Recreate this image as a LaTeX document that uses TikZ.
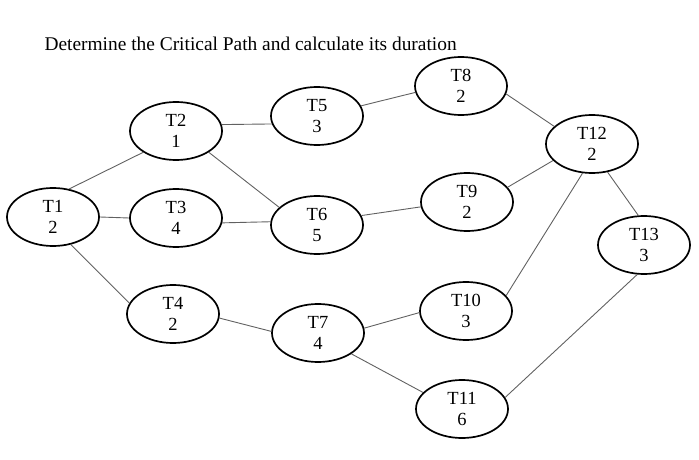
\documentclass[tikz,border=0pt]{standalone}
\usepackage{fontspec}
\setmainfont{Liberation Serif}
\usetikzlibrary{shapes.geometric}
\begin{document}
\begin{tikzpicture}[x=1pt,y=-1pt,
  task/.style={ellipse,draw=black,line width=1.7pt,minimum width=92pt,minimum height=58pt,inner sep=0pt,align=center,font=\fontsize{18.5}{20.5}\selectfont},
  link/.style={draw=black!62,line width=0.9pt}]
\useasboundingbox (0,0) rectangle (699,460);
\node[anchor=base west,font=\fontsize{19.4}{21}\selectfont] (title) at (41,51) {Determine the Critical Path and calculate its duration};
\node[task] (T1) at (53,217) {T1\\2};
\node[task] (T2) at (176,131) {T2\\1};
\node[task] (T3) at (176,218) {T3\\4};
\node[task] (T4) at (173,314) {T4\\2};
\node[task] (T5) at (317,116) {T5\\3};
\node[task] (T6) at (317,225) {T6\\5};
\node[task] (T7) at (318,333) {T7\\4};
\node[task] (T8) at (461,86) {T8\\2};
\node[task] (T9) at (467,202) {T9\\2};
\node[task] (T10) at (466,311) {T10\\3};
\node[task] (T11) at (462,409) {T11\\6};
\node[task] (T12) at (592,144) {T12\\2};
\node[task] (T13) at (644,245) {T13\\3};
\draw[link] (T1.60) -- (T2.213);
\draw[link] (T1.0) -- (T3.180);
\draw[link] (T1.-57) -- (T4.166);
\draw[link] (T2.8) -- (T5.190);
\draw[link] (T2.-33) -- (T6.155);
\draw[link] (T3.-6) -- (T6.176);
\draw[link] (T4.-5) -- (T7.178);
\draw[link] (T5.13) -- (T8.188);
\draw[link] (T6.12) -- (T9.186);
\draw[link] (T7.6) -- (T10.182);
\draw[link] (T7.-32) -- (T11.157);
\draw[link] (T8.-10) -- (T12.155);
\draw[link] (T9.20) -- (T12.203);
\draw[link] (T10.21) -- (T12.252);
\draw[link] (T12.-61) -- (T13.101);
\draw[link] (T11.15) -- (T13.257);
\end{tikzpicture}
\end{document}
